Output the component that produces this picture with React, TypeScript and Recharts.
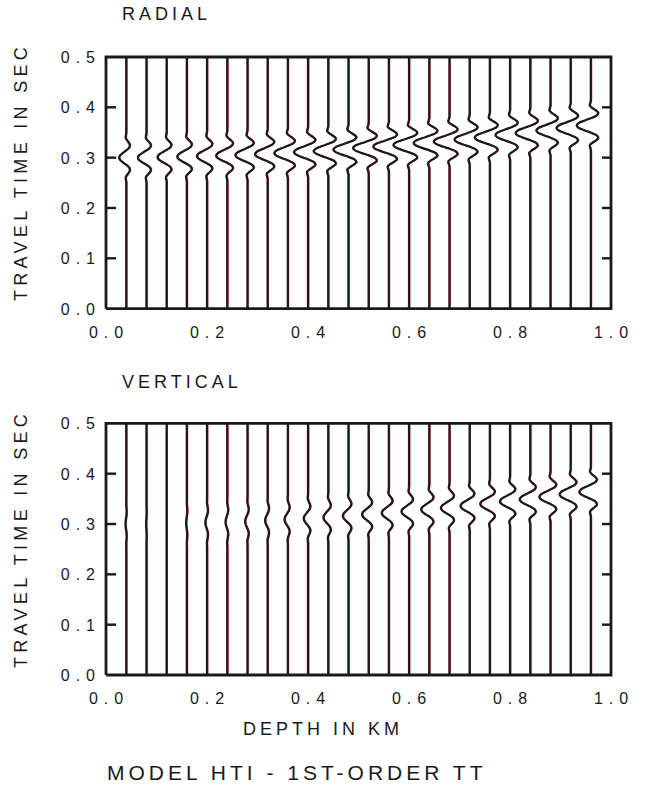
import React from "react";
import { Scatter, ScatterChart, XAxis, YAxis } from "recharts";

// trace positions (km)
const depths = [
  0.04, 0.08, 0.12, 0.16, 0.2, 0.24, 0.28, 0.32, 0.36, 0.4, 0.44, 0.48,
  0.52, 0.56, 0.6, 0.64, 0.68, 0.72, 0.76, 0.8, 0.84, 0.88, 0.92, 0.96
];

// arrival time of each wavelet centre (sec)
const radialTimes = [
  0.3, 0.3, 0.301, 0.302, 0.303, 0.304, 0.305, 0.307, 0.309, 0.311, 0.313, 0.316,
  0.319, 0.322, 0.325, 0.329, 0.332, 0.336, 0.34, 0.345, 0.349, 0.354, 0.359, 0.364
];
const verticalTimes = [
  0.3, 0.3, 0.301, 0.302, 0.303, 0.304, 0.305, 0.307, 0.309, 0.311, 0.313, 0.316,
  0.319, 0.322, 0.325, 0.329, 0.332, 0.336, 0.34, 0.345, 0.349, 0.354, 0.359, 0.364
];

// peak deflection of each trace (km)
const radialAmps = [
  0.014, 0.017, 0.018, 0.019, 0.02, 0.022, 0.024, 0.025, 0.027, 0.028, 0.029, 0.03,
  0.031, 0.031, 0.031, 0.031, 0.031, 0.03, 0.03, 0.029, 0.029, 0.028, 0.028, 0.028
];
const verticalAmps = [
  0.0014, 0.0006, 0, 0.0014, 0.0034, 0.0034, 0.0046, 0.005, 0.0065, 0.0085, 0.0095, 0.011,
  0.013, 0.014, 0.015, 0.016, 0.017, 0.018, 0.019, 0.02, 0.021, 0.022, 0.022, 0.023
];

// wavelet: time offset (sec) and relative deflection
const waveletOffsets = [
  -0.05, -0.045, -0.04, -0.035, -0.03, -0.025, -0.02, -0.015, -0.01, -0.005, 0,
  0.005, 0.01, 0.015, 0.02, 0.025, 0.03, 0.035, 0.04, 0.045, 0.05
];
const waveletShape = [
  0, -0.04, -0.08, 0.08, 0.35, 0.52, 0.42, 0.05, -0.42, -0.85, -1,
  -0.85, -0.42, 0.05, 0.42, 0.52, 0.35, 0.08, -0.08, -0.04, 0
];

// plot box corners and tick marks, in data units
const frameX = [0, 1, 1, 0, 0];
const frameY = [0, 0, 0.5, 0.5, 0];
const leftTickSpan = [0, 0.02];
const rightTickSpan = [0.982, 1];

const timeTicks = [0, 0.1, 0.2, 0.3, 0.4, 0.5];
const innerTimeTicks = [0.1, 0.2, 0.3, 0.4];
const depthTicks = [0, 0.2, 0.4, 0.6, 0.8, 1.0];
const timeLabels = ["0.0", "0.1", "0.2", "0.3", "0.4", "0.5"];
const depthLabels = ["0.0", "0.2", "0.4", "0.6", "0.8", "1.0"];

// both panels share one time scale; the radial panel sits this far above
const PANEL_GAP = 0.728;
const Y_MAX = PANEL_GAP + 0.5;

const FONT = '"Liberation Sans", Arial, Helvetica, sans-serif';
const INK = "#1a1a1a";

function buildTrace(depth: number, t0: number, amp: number, shift: number, off: number) {
  const pts = [{ x: depth + shift, y: off }];
  waveletOffsets.forEach((dt, k) => {
    pts.push({ x: depth + shift + amp * waveletShape[k], y: off + t0 + dt });
  });
  pts.push({ x: depth + shift, y: off + 0.5 });
  return pts;
}

const noDot = () => <g />;

function TimeLabel(props: any) {
  const { cx, cy, payload } = props;
  return (
    <text
      x={cx - 5}
      y={cy + 6}
      textAnchor="end"
      fontFamily={FONT}
      fontSize={16}
      letterSpacing={6}
      fill={INK}
    >
      {payload.label}
    </text>
  );
}

function DepthLabel(props: any) {
  const { cx, cy, payload } = props;
  return (
    <text
      x={cx + 3}
      y={cy + 29}
      textAnchor="middle"
      fontFamily={FONT}
      fontSize={16}
      letterSpacing={6}
      fill={INK}
    >
      {payload.label}
    </text>
  );
}

function panelSeries(name: string, times: number[], amps: number[], off: number) {
  const items: React.ReactNode[] = [];
  depths.forEach((d, i) => {
    items.push(
      <Scatter
        key={`${name}-red-${i}`}
        data={buildTrace(d, times[i], amps[i], 0.0015, off)}
        line={{ stroke: "#d42020", strokeWidth: 1.3 }}
        lineJointType="monotoneY"
        shape={noDot}
        isAnimationActive={false}
      />
    );
  });
  depths.forEach((d, i) => {
    items.push(
      <Scatter
        key={`${name}-blk-${i}`}
        data={buildTrace(d, times[i], amps[i], 0, off)}
        line={{ stroke: INK, strokeWidth: 2.2 }}
        lineJointType="monotoneY"
        shape={noDot}
        isAnimationActive={false}
      />
    );
  });
  innerTimeTicks.forEach((t) => {
    items.push(
      <Scatter
        key={`${name}-lt-${t}`}
        data={leftTickSpan.map((x) => ({ x, y: off + t }))}
        line={{ stroke: INK, strokeWidth: 2.4 }}
        shape={noDot}
        isAnimationActive={false}
      />
    );
    items.push(
      <Scatter
        key={`${name}-rt-${t}`}
        data={rightTickSpan.map((x) => ({ x, y: off + t }))}
        line={{ stroke: INK, strokeWidth: 2.4 }}
        shape={noDot}
        isAnimationActive={false}
      />
    );
  });
  items.push(
    <Scatter
      key={`${name}-frame`}
      data={frameX.map((x, i) => ({ x, y: off + frameY[i] }))}
      line={{ stroke: INK, strokeWidth: 2.8 }}
      shape={noDot}
      isAnimationActive={false}
    />
  );
  items.push(
    <Scatter
      key={`${name}-tlab`}
      data={timeTicks.map((t, i) => ({ x: 0, y: off + t, label: timeLabels[i] }))}
      shape={<TimeLabel />}
      isAnimationActive={false}
    />
  );
  items.push(
    <Scatter
      key={`${name}-dlab`}
      data={depthTicks.map((d, i) => ({ x: d, y: off, label: depthLabels[i] }))}
      shape={<DepthLabel />}
      isAnimationActive={false}
    />
  );
  return items;
}

const textStyle = { fontFamily: FONT, fill: INK } as const;

export default function App() {
  return (
    <div
      style={{
        position: "absolute",
        left: 0,
        top: 0,
        width: 651,
        height: 789,
        background: "#fff",
        overflow: "hidden"
      }}
    >
      <svg width={651} height={789} style={{ position: "absolute", left: 0, top: 0 }}>
        <text x={122} y={20} fontSize={18} letterSpacing={4} {...textStyle}>
          RADIAL
        </text>
        <text x={122} y={388} fontSize={18} letterSpacing={4} {...textStyle}>
          VERTICAL
        </text>
        <text
          transform="translate(27,172) rotate(-90)"
          textAnchor="middle"
          fontSize={18}
          letterSpacing={4.3}
          {...textStyle}
        >
          TRAVEL TIME IN SEC
        </text>
        <text
          transform="translate(27,539) rotate(-90)"
          textAnchor="middle"
          fontSize={18}
          letterSpacing={4.3}
          {...textStyle}
        >
          TRAVEL TIME IN SEC
        </text>
        <text x={243} y={735} fontSize={18} letterSpacing={4} {...textStyle}>
          DEPTH IN KM
        </text>
        <text x={107} y={780} fontSize={21} letterSpacing={4} {...textStyle}>
          MODEL HTI - 1ST-ORDER TT
        </text>
      </svg>
      <div style={{ position: "absolute", left: 0, top: 0 }}>
        <ScatterChart
          width={651}
          height={789}
          margin={{ top: 57, right: 40, bottom: 114, left: 106 }}
        >
          <XAxis type="number" dataKey="x" domain={[0, 1]} hide />
          <YAxis type="number" dataKey="y" domain={[0, Y_MAX]} hide />
          {panelSeries("rad", radialTimes, radialAmps, PANEL_GAP)}
          {panelSeries("ver", verticalTimes, verticalAmps, 0)}
        </ScatterChart>
      </div>
    </div>
  );
}
